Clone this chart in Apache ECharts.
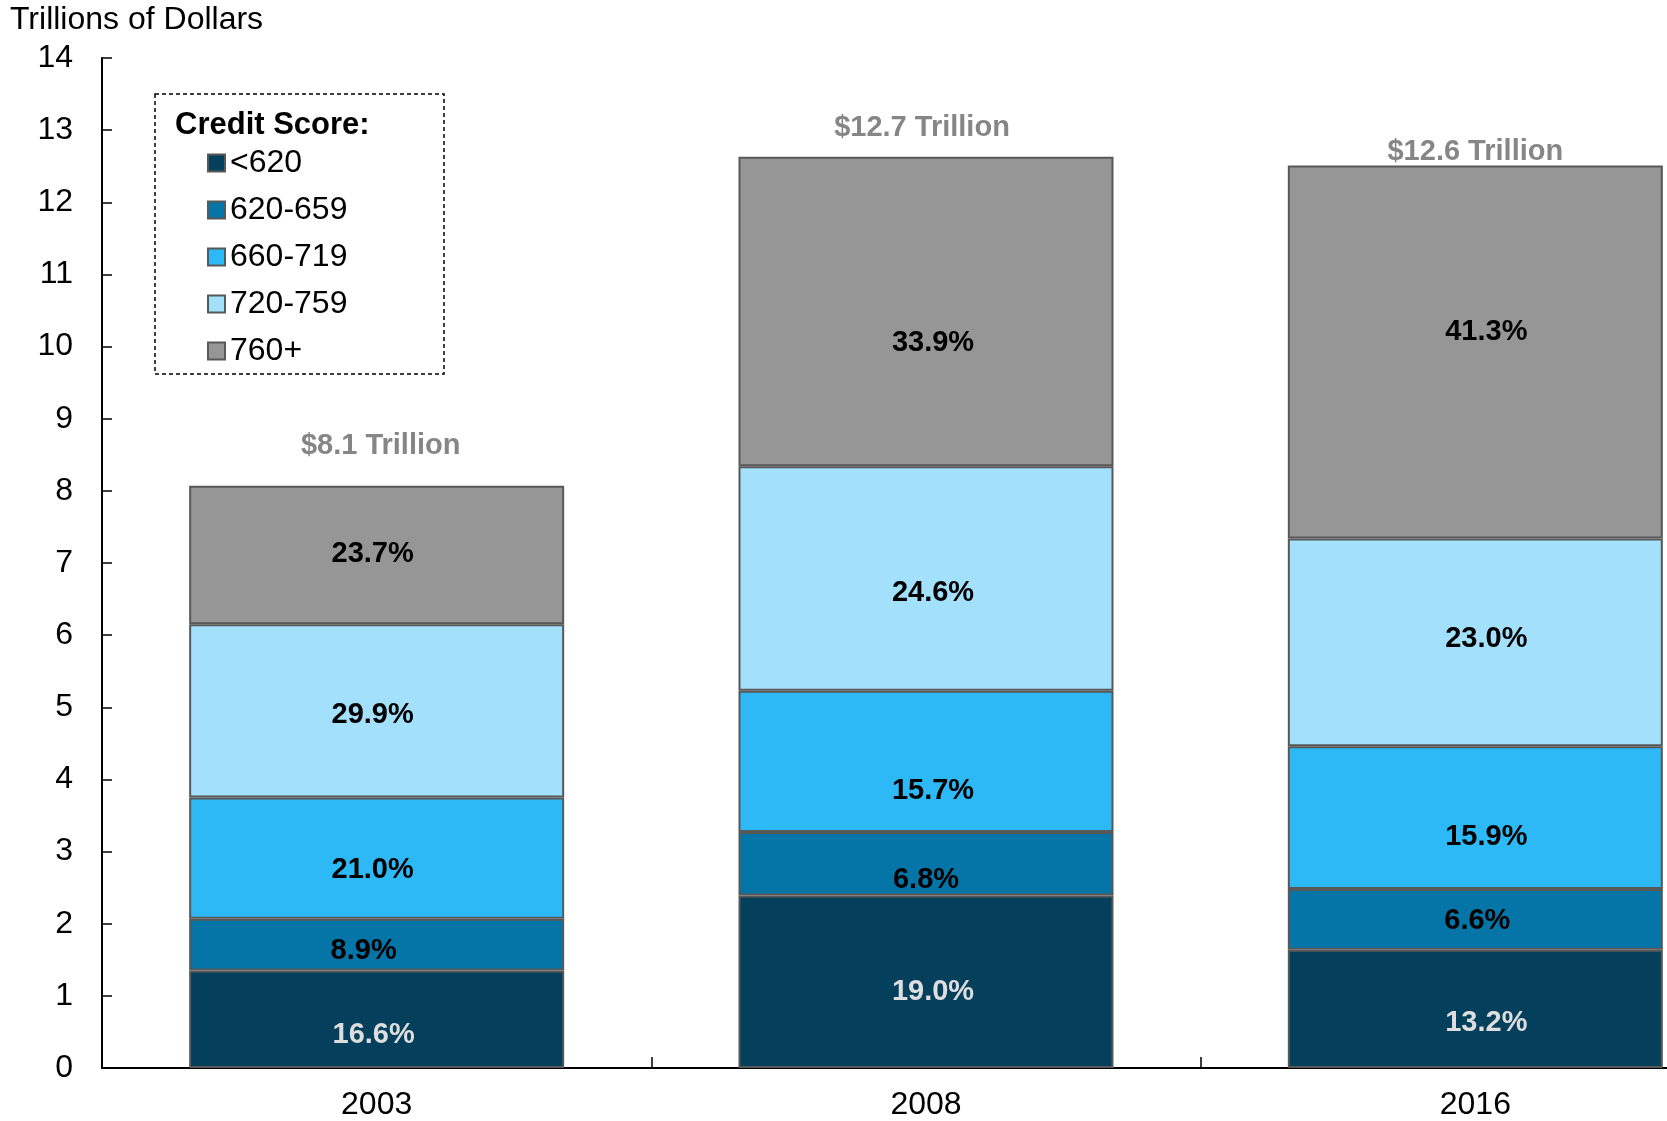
<!DOCTYPE html>
<html>
<head>
<meta charset="utf-8">
<script src="https://cdn.jsdelivr.net/npm/echarts@6/dist/echarts.min.js"></script>
<style>
  html, body { margin: 0; padding: 0; background: #fff; }
  #chart { width: 1667px; height: 1121px; }
</style>
</head>
<body>
<div id="chart"></div>
<script>
// years on the x axis
const years = ['2003', '2008', '2016'];
// credit score bands (legend)
const bands = ['<620', '620-659', '660-719', '720-759', '760+'];

// debt per band, trillions of dollars
const lt620 = [1.35, 2.39, 1.64];
const s620to659 = [0.72, 0.88, 0.84];
const s660to719 = [1.68, 1.96, 1.98];
const s720to759 = [2.40, 3.11, 2.88];
const s760plus = [1.92, 4.29, 5.17];

// share labels printed in each segment
const pctLt620 = ['16.6%', '19.0%', '13.2%'];
const pct620to659 = ['8.9%', '6.8%', '6.6%'];
const pct660to719 = ['21.0%', '15.7%', '15.9%'];
const pct720to759 = ['29.9%', '24.6%', '23.0%'];
const pct760plus = ['23.7%', '33.9%', '41.3%'];

// total labels above the bars
const totals = ['$8.1 Trillion', '$12.7 Trillion', '$12.6 Trillion'];

// y axis ticks
const yMin = 0, yMax = 14, yStep = 1;

window.onload = function () {
    setChart();
}

function setChart() {
    let myChart = echarts.init(document.querySelector('#chart'));
    const font = 'Liberation Sans, Arial, sans-serif';
    const colors = ['#043f5b', '#0575a8', '#2cb9f6', '#a3e0fb', '#969696'];
    const values = [lt620, s620to659, s660to719, s720to759, s760plus];
    const pcts = [pctLt620, pct620to659, pct660to719, pct720to759, pct760plus];
    const labelColors = ['#dedede', '#000', '#000', '#000', '#000'];
    // label nudges (px) so text sits where the original put it
    const labelShift = [
        [[-3, 16], [7, 10], [11, 14]],
        [[-13, 6], [0, 16], [2, 2]],
        [[-4, 12], [7, 30], [11, 19]],
        [[-4, 4], [7, 14], [11, -3]],
        [[-4, -1], [7, 31], [11, -20]]
    ];

    let series = bands.map((b, i) => ({
        name: b,
        type: 'bar',
        stack: 'total',
        barWidth: 375,
        data: values[i].map((v, j) => ({ value: v, label: { offset: labelShift[i][j] } })),
        itemStyle: { color: colors[i], borderColor: '#585858', borderWidth: 2 },
        label: {
            show: true,
            position: 'inside',
            formatter: p => pcts[i][p.dataIndex],
            fontFamily: font,
            fontWeight: 'bold',
            fontSize: 29,
            color: labelColors[i]
        },
        emphasis: { disabled: true }
    }));

    // invisible points at each bar top, carrying the total labels
    const gaps = [25, 14, -2];
    const totalShiftX = [4, -4, 0];
    let tops = years.map((y, j) => ({
        value: values.reduce((s, arr) => s + arr[j], 0),
        label: { distance: gaps[j], offset: [totalShiftX[j], 0] }
    }));
    series.push({
        name: 'totals',
        type: 'scatter',
        data: tops,
        symbolSize: 1,
        itemStyle: { color: 'rgba(0,0,0,0)' },
        label: {
            show: true,
            position: 'top',
            formatter: p => totals[p.dataIndex],
            fontFamily: font,
            fontWeight: 'bold',
            fontSize: 29,
            color: '#686868'
        },
        z: 5,
        silent: true
    });

    var option = {
        backgroundColor: '#fff',
        animation: false,
        title: {
            text: 'Trillions of Dollars',
            left: 10,
            top: 4,
            padding: 0,
            textStyle: { fontFamily: font, fontWeight: 'normal', fontSize: 32, color: '#000' }
        },
        grid: { left: 102, width: 1648, top: 58, bottom: 53, containLabel: false, outerBoundsMode: 'none' },
        legend: {
            data: bands,
            orient: 'vertical',
            left: 207,
            top: 147,
            padding: 0,
            itemWidth: 17,
            itemHeight: 17,
            itemGap: 15,
            icon: 'rect',
            selectedMode: false,
            textStyle: { fontFamily: font, fontSize: 32, color: '#000', lineHeight: 32 }
        },
        graphic: [
            {
                type: 'rect',
                shape: { x: 155, y: 94, width: 289, height: 280 },
                style: { fill: 'none', stroke: '#000', lineWidth: 1.5, lineDash: [4, 3] }
            },
            {
                type: 'text',
                x: 175,
                y: 125,
                style: {
                    text: 'Credit Score:',
                    font: 'bold 31px ' + font,
                    fill: '#000',
                    textVerticalAlign: 'middle'
                }
            }
        ],
        xAxis: {
            type: 'category',
            data: years,
            axisLine: { lineStyle: { color: '#000', width: 2 } },
            axisTick: { show: true, inside: true, length: 11, lineStyle: { color: '#000', width: 1.5 } },
            axisLabel: { fontFamily: font, fontSize: 32, color: '#000', margin: 21 }
        },
        yAxis: {
            type: 'value',
            min: yMin,
            max: yMax,
            interval: yStep,
            splitLine: { show: false },
            axisLine: { show: true, lineStyle: { color: '#000', width: 2 } },
            axisTick: { show: true, inside: true, length: 10, lineStyle: { color: '#000', width: 1.5 } },
            axisLabel: { fontFamily: font, fontSize: 32, color: '#000', margin: 29 }
        },
        series: series
    };
    myChart.setOption(option);
}
</script>
</body>
</html>
